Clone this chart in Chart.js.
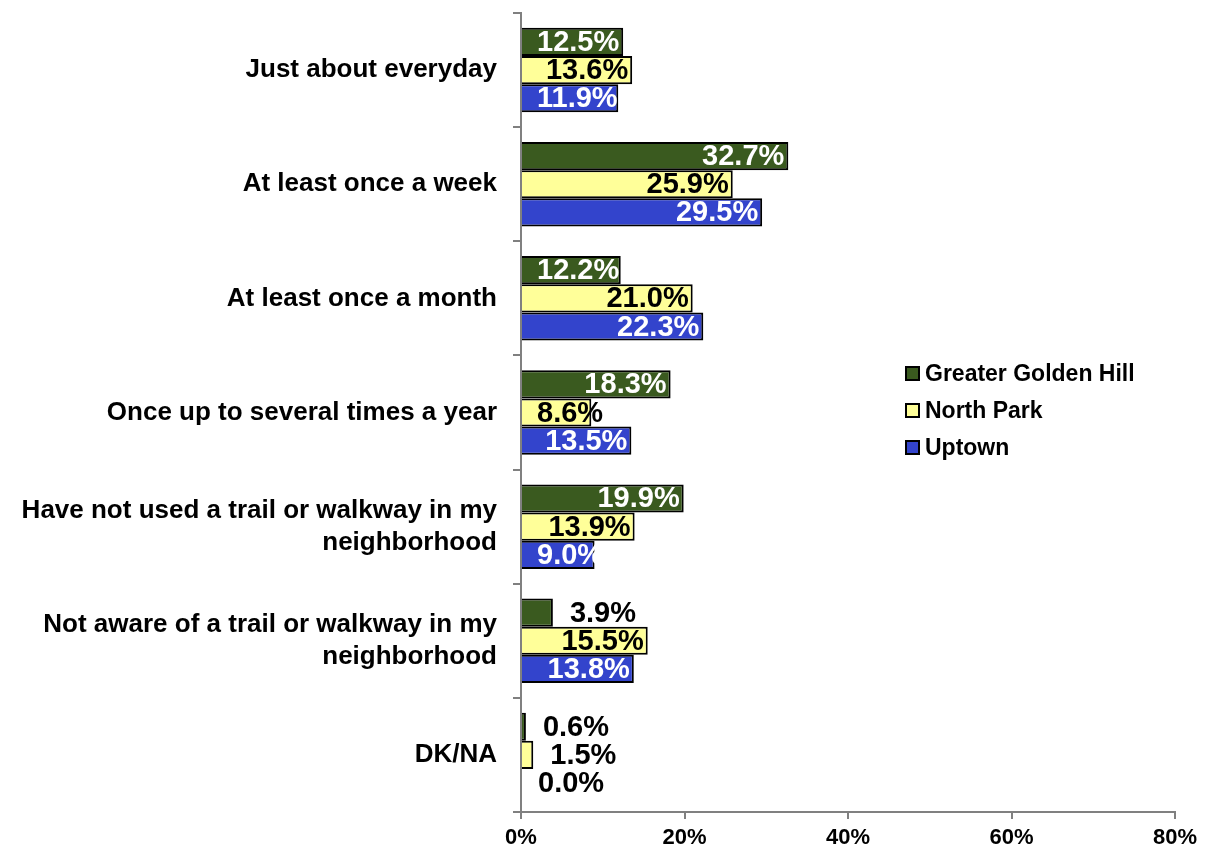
<!DOCTYPE html>
<html>
<head>
<meta charset="utf-8">
<script src="https://cdn.jsdelivr.net/npm/chart.js@4"></script>
<style>
  html, body { margin: 0; padding: 0; background: #fff; }
  #wrap { position: relative; width: 1209px; height: 852px; }
  #legend { position: absolute; left: 905px; top: 355px; font: bold 23px "Liberation Sans", Arial, sans-serif; color: #000; }
  #legend div { height: 37px; line-height: 37px; display: flex; align-items: center; }
  #legend span.box { display: inline-block; width: 11px; height: 11px; border: 2px solid #000; margin-right: 5px; }
</style>
</head>
<body>
<div id="wrap">
  <canvas id="grafico" width="1209" height="852"></canvas>
  <div id="legend"></div>
</div>
<script>
const categories = [
  "Just about everyday",
  "At least once a week",
  "At least once a month",
  "Once up to several times a year",
  ["Have not used a trail or walkway in my", "neighborhood"],
  ["Not aware of a trail or walkway in my", "neighborhood"],
  "DK/NA",
];

const seriesNames = ["Greater Golden Hill", "North Park", "Uptown"];

const goldenHill = [12.5, 32.7, 12.2, 18.3, 19.9, 3.9, 0.6];
const northPark = [13.6, 25.9, 21.0, 8.6, 13.9, 15.5, 1.5];
const uptown = [11.9, 29.5, 22.3, 13.5, 9.0, 13.8, 0.0];

const xMin = 0;
const xMax = 80;
const xStep = 20;

const colores = ["#3a5a1f", "#ffff99", "#3344cc"];
const coloresTexto = ["#ffffff", "#000000", "#ffffff"];

const fuente = '"Liberation Sans", Arial, sans-serif';

// etiquetas de valores sobre las barras
const etiquetas = {
  id: "etiquetas",
  afterDatasetsDraw(chart) {
    const ctx = chart.ctx;
    const base = chart.scales.x.getPixelForValue(0);
    ctx.save();
    ctx.font = "bold 29px " + fuente;
    ctx.textAlign = "left";
    ctx.textBaseline = "middle";
    chart.data.datasets.forEach((ds, i) => {
      const meta = chart.getDatasetMeta(i);
      meta.data.forEach((bar, j) => {
        const v = ds.data[j];
        const texto = v.toFixed(1) + "%";
        const w = ctx.measureText(texto).width;
        let x;
        if (v >= 8) {
          ctx.fillStyle = coloresTexto[i];
          x = Math.max(bar.x - 4 - w, base + 16);
        } else {
          ctx.fillStyle = "#000000";
          x = bar.x + 17;
        }
        ctx.fillText(texto, x, bar.y + 1);
      });
    });
    ctx.restore();
  },
};

const ctx = document.getElementById("grafico");

const grafico = new Chart(ctx, {
  type: "bar",

  data: {
    labels: categories,
    datasets: [goldenHill, northPark, uptown].map((serie, i) => ({
      label: seriesNames[i],
      data: serie,
      backgroundColor: colores[i],
      borderColor: "#000000",
      borderWidth: 2,
      borderSkipped: "start",
      categoryPercentage: 0.74,
      barPercentage: 1.0,
    })),
  },

  options: {
    indexAxis: "y",
    responsive: false,
    animation: false,
    devicePixelRatio: 1,

    layout: {
      padding: { left: 0, right: 34, top: 13, bottom: 0 },
    },

    plugins: {
      legend: { display: false },
      tooltip: { enabled: false },
    },

    scales: {
      y: {
        afterFit(scale) {
          scale.width = 521;
          scale.paddingTop = 0;
          scale.paddingBottom = 0;
        },
        border: { color: "#808080", width: 2 },
        grid: {
          offset: true,
          drawOnChartArea: false,
          color: "#808080",
          lineWidth: 2,
          tickLength: 8,
        },
        ticks: {
          color: "#000000",
          padding: 16,
          font: { family: fuente, size: 26, weight: "bold", lineHeight: 1.23 },
        },
      },

      x: {
        min: xMin,
        max: xMax,
        afterFit(scale) {
          scale.height = 40;
        },
        border: { color: "#808080", width: 2 },
        grid: {
          drawOnChartArea: false,
          color: "#808080",
          lineWidth: 2,
          tickLength: 7,
        },
        ticks: {
          stepSize: xStep,
          color: "#000000",
          padding: 6,
          font: { family: fuente, size: 22, weight: "bold" },
          callback: (v) => v + "%",
        },
      },
    },
  },

  plugins: [etiquetas],
});

const leyenda = document.getElementById("legend");
seriesNames.forEach((nombre, i) => {
  const fila = document.createElement("div");
  const caja = document.createElement("span");
  caja.className = "box";
  caja.style.background = colores[i];
  fila.appendChild(caja);
  fila.appendChild(document.createTextNode(nombre));
  leyenda.appendChild(fila);
});
</script>
</body>
</html>
